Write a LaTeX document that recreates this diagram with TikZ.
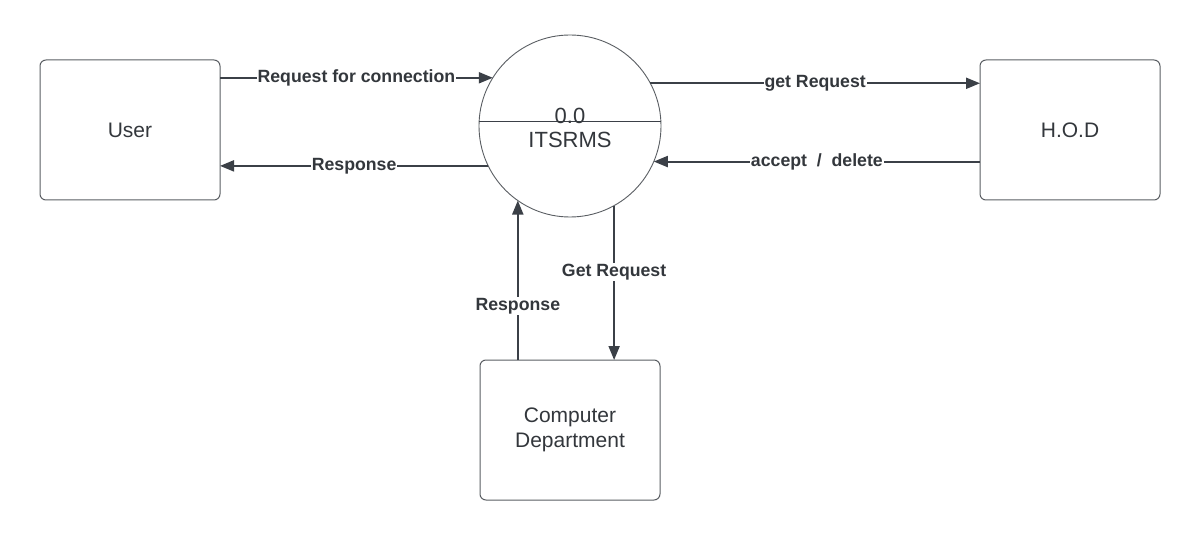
\documentclass[tikz,border=0pt]{standalone}
\usepackage{fontspec}
\setmainfont{Liberation Sans}
\usetikzlibrary{arrows.meta}
\definecolor{linec}{HTML}{3B4047}
\definecolor{boxc}{HTML}{5A5E63}
\definecolor{txtc}{HTML}{33373C}
\tikzset{
  entity/.style={draw=boxc, line width=1pt, rounded corners=6pt, minimum width=180pt, minimum height=140pt, align=center, text=txtc, font=\fontsize{21}{25}\selectfont, inner sep=0pt, outer sep=0pt},
  proc/.style={draw=boxc, line width=0.9pt, circle, minimum size=182pt, inner sep=0pt, outer sep=0pt},
  flow/.style={draw=linec, line width=2pt, -{Triangle[length=14pt,width=11pt]}},
  lab/.style={fill=white, text=txtc, font=\bfseries\fontsize{17.7}{21}\selectfont, inner sep=1pt},
  ptext/.style={text=txtc, font=\fontsize{22}{26}\selectfont}
}
\begin{document}
\begin{tikzpicture}[x=1pt,y=-1pt]
\useasboundingbox[fill=white] (0,0) rectangle (1200,540);
\node[entity] (user) at (130,130) {User};
\node[entity] (hod) at (1070,130) {H.O.D};
\node[entity] (cd) at (570,430) {Computer\\Department};
\node[proc] (c) at (570,126) {};
\draw[draw=linec, line width=0.9pt] ([xshift=-90.86pt,yshift=5pt]c.center) -- ([xshift=90.86pt,yshift=5pt]c.center);
\node[ptext] (zero) at (570,115.5) {0.0};
\node[ptext] (name) at (570,140) {ITSRMS};
\draw[flow] (user.east |- c.148.2) -- node[lab, pos=0.5] {Request for connection} (c.148.2);
\draw[flow] (c.206.8) -- node[lab, pos=0.5] {Response} (user.east |- c.206.8);
\draw[flow] (c.28.9) -- node[lab, pos=0.5] {get Request} (hod.west |- c.28.9);
\draw[flow] (hod.west |- c.337.4) -- node[lab, pos=0.5] {accept\ \ /\ \ delete} (c.337.4);
\draw[flow] (c.299.6) -- node[lab, pos=0.43] {Get Request} (cd.north -| c.299.6);
\draw[flow] (cd.north -| c.235.2) -- node[lab, pos=0.34] {Response} (c.235.2);
\end{tikzpicture}
\end{document}
